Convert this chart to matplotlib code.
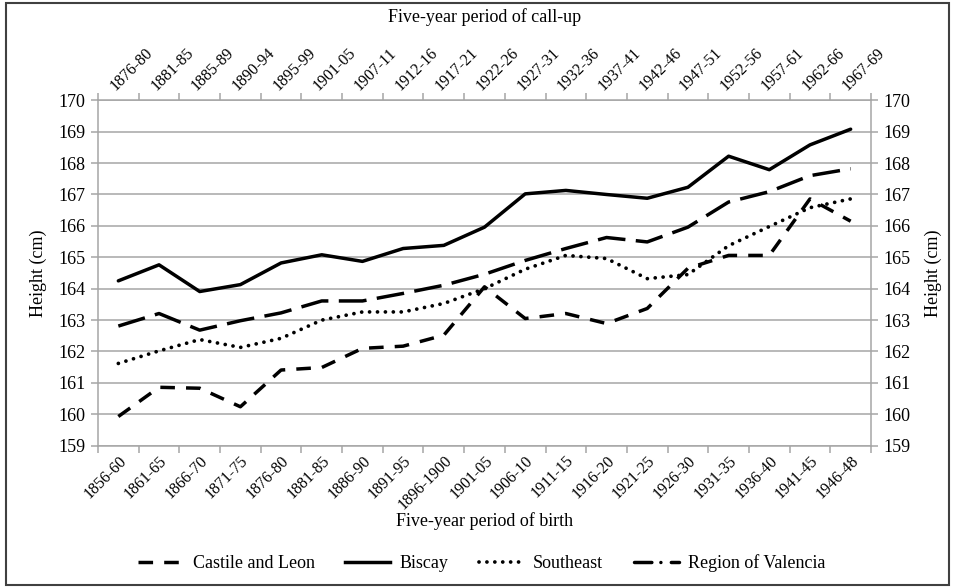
import matplotlib.pyplot as plt
from matplotlib.lines import Line2D
from matplotlib.patches import Rectangle

# Five-year periods (bottom axis: birth, top axis: call-up)
birth = ['1856-60', '1861-65', '1866-70', '1871-75', '1876-80', '1881-85', '1886-90',
         '1891-95', '1896-1900', '1901-05', '1906-10', '1911-15', '1916-20', '1921-25',
         '1926-30', '1931-35', '1936-40', '1941-45', '1946-48']
callup = ['1876-80', '1881-85', '1885-89', '1890-94', '1895-99', '1901-05', '1907-11',
          '1912-16', '1917-21', '1922-26', '1927-31', '1932-36', '1937-41', '1942-46',
          '1947-51', '1952-56', '1957-61', '1962-66', '1967-69']

# Mean height (cm) per region
castile = [159.93, 160.86, 160.83, 160.24, 161.41, 161.49, 162.10, 162.17, 162.52, 164.06,
           163.05, 163.21, 162.89, 163.37, 164.65, 165.06, 165.06, 166.86, 166.15]
biscay = [164.25, 164.76, 163.91, 164.13, 164.82, 165.08, 164.87, 165.28, 165.38, 165.96,
          167.02, 167.13, 167.00, 166.88, 167.23, 168.22, 167.79, 168.58, 169.08]
southeast = [161.62, 162.02, 162.38, 162.13, 162.42, 163.00, 163.26, 163.26, 163.53, 164.00,
             164.62, 165.06, 164.96, 164.32, 164.45, 165.37, 165.98, 166.58, 166.86]
valencia = [162.81, 163.21, 162.68, 162.98, 163.23, 163.61, 163.61, 163.85, 164.11, 164.46,
            164.90, 165.28, 165.63, 165.49, 165.96, 166.76, 167.09, 167.60, 167.82]

plt.rcParams['font.family'] = 'Liberation Serif'
grey = '#a6a6a6'

fig = plt.figure(figsize=(9.55, 5.88), dpi=100)
ax = fig.add_axes([98 / 955, 1 - 445.7 / 588, 773 / 955, 345.4 / 588])

x = list(range(len(birth)))
ax.plot(x, castile, color='black', lw=2.5, dashes=(4.2, 3.2), label='Castile and Leon')
ax.plot(x, biscay, color='black', lw=2.5, solid_capstyle='round', label='Biscay')
ax.plot(x, southeast, color='black', lw=2.7, dashes=(0.01, 2.1), dash_capstyle='round',
        label='Southeast')
ax.plot(x, valencia, color='black', lw=2.5, dashes=(8, 3), label='Region of Valencia')

ax.set_xlim(-0.5, len(birth) - 0.5)
ax.set_ylim(159, 170)
ax.set_yticks(range(159, 171))
ax.grid(axis='y', color=grey, lw=1.1)
ax.set_axisbelow(True)

# category boundaries get ticks, centres get labels
bounds = [i - 0.5 for i in range(len(birth) + 1)]
ax.set_xticks(bounds)
ax.set_xticklabels([])
ax.set_xticks(x, minor=True)
ax.set_xticklabels(birth, minor=True, rotation=45, ha='right', va='top',
                   rotation_mode='anchor', fontsize=11.5)
ax.tick_params(axis='x', which='minor', length=0, pad=5)
ax.tick_params(axis='x', which='major', length=5, color=grey, width=1.1)
ax.tick_params(axis='y', length=5, color=grey, width=1.1, labelsize=13, pad=4)
for s in ax.spines.values():
    s.set_color(grey)
    s.set_linewidth(1.1)

ax.set_ylabel('Height (cm)', fontsize=13)
ax.yaxis.set_label_coords(-0.066, 0.5)
ax.set_xlabel('Five-year period of birth', fontsize=13)
ax.xaxis.set_label_coords(0.5, -0.193)

# top axis: call-up periods
ax2 = ax.twiny()
ax2.set_xlim(ax.get_xlim())
ax2.set_xticks(bounds)
ax2.set_xticklabels([])
ax2.set_xticks(x, minor=True)
ax2.set_xticklabels(callup, minor=True, rotation=45, ha='left', va='bottom',
                    rotation_mode='anchor', fontsize=11.5)
ax2.tick_params(axis='x', which='minor', length=0, pad=5)
ax2.tick_params(axis='x', which='major', length=5, color=grey, width=1.1)
ax2.set_xlabel('Five-year period of call-up', fontsize=13)
ax2.xaxis.set_label_coords(0.5, 1.227)
for s in ax2.spines.values():
    s.set_visible(False)

# right axis
ax3 = ax.twinx()
ax3.set_ylim(ax.get_ylim())
ax3.set_yticks(range(159, 171))
ax3.tick_params(axis='y', length=5, color=grey, width=1.1, labelsize=13, pad=4)
ax3.set_ylabel('Height (cm)', fontsize=13)
ax3.yaxis.set_label_coords(1.070, 0.5)
for s in ax3.spines.values():
    s.set_visible(False)

handles = [
    Line2D([], [], color='black', lw=2.5, dashes=(4.2, 3.2)),
    Line2D([], [], color='black', lw=2.5),
    Line2D([], [], color='black', lw=2.7, dashes=(0.01, 2.1), dash_capstyle='round'),
    Line2D([], [], color='black', lw=2.5, dashes=(5, 2.6, 0.01, 3), dash_capstyle='round'),
]
labels = ['Castile and Leon', 'Biscay', 'Southeast', 'Region of Valencia']
fig.legend(handles, labels, ncol=4, loc='center', bbox_to_anchor=(482 / 955, 1 - 563 / 588),
           frameon=False, fontsize=13, handlelength=2.5, handletextpad=0.5,
           columnspacing=1.7)

# outer frame of the picture
fig.patches.append(Rectangle((6 / 955, 3 / 588), 943 / 955, 582 / 588, transform=fig.transFigure,
                             fill=False, edgecolor='#404040', lw=1.5))

fig.savefig('out.png', dpi=100)
